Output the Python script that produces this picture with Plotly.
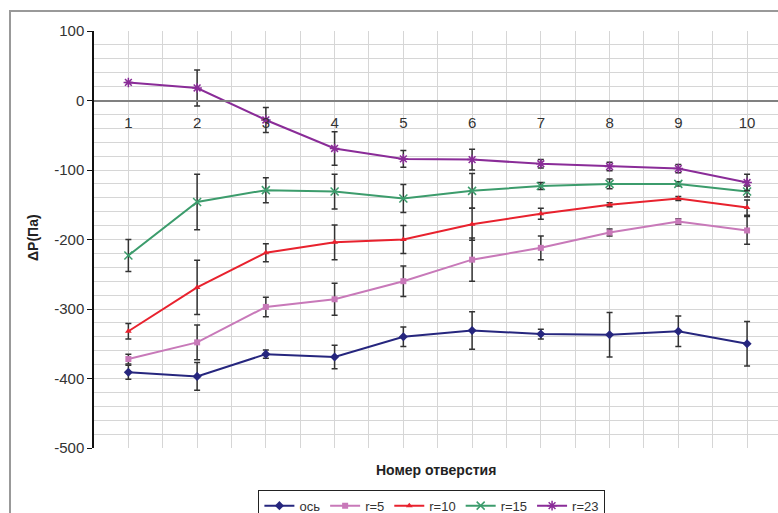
import plotly.graph_objects as go

# Номер отверстия (hole number)
holes = [1, 2, 3, 4, 5, 6, 7, 8, 9, 10]

# ΔP, Pa, per radius, with error half-widths
p_axis = [-391, -397, -365, -369, -340, -331, -336, -337, -332, -350]
e_axis = [10, 20, 6, 17, 14, 27, 7, 32, 22, 32]

p_r5 = [-372, -348, -297, -286, -260, -229, -212, -190, -174, -187]
e_r5 = [7, 25, 14, 23, 22, 31, 17, 5, 4, 20]

p_r10 = [-332, -269, -219, -204, -200, -178, -163, -150, -141, -154]
e_r10 = [11, 39, 13, 25, 20, 23, 8, 3, 3, 11]

p_r15 = [-223, -146, -129, -131, -141, -130, -123, -120, -120, -131]
e_r15 = [23, 40, 18, 25, 20, 25, 5, 7, 3, 8]

p_r23 = [26, 18, -28, -69, -84, -85, -91, -95, -98, -118]
e_r23 = [0, 26, 18, 24, 12, 15, 6, 6, 6, 12]

y_ticks = [100, 0, -100, -200, -300, -400, -500]
y_tick_text = ["100", "0", "-100", "-200", "-300", "-400", "-500"]

series = [
    ("ось", p_axis, e_axis, "#26267E", "diamond", 7, 0),
    ("r=5", p_r5, e_r5, "#C879B9", "square", 6, 0),
    ("r=10", p_r10, e_r10, "#E8222E", "triangle-up", 6, 0),
    ("r=15", p_r15, e_r15, "#3C9C6C", "x-thin-open", 8, 1.5),
    ("r=23", p_r23, e_r23, "#8A2C98", "asterisk-open", 8, 1.5),
]

fig = go.Figure()
for name, vals, errs, color, symbol, size, lw in series:
    fig.add_trace(go.Scatter(
        x=holes, y=vals, name=name, mode="lines+markers",
        line=dict(color=color, width=2),
        marker=dict(symbol=symbol, size=size, color=color,
                    line=dict(color=color, width=lw)),
        error_y=dict(type="data", array=errs, visible=True,
                     color="#333333", thickness=1.5, width=3),
    ))

grid = "#D6D6D6"
font_main = "Liberation Sans, Arial, sans-serif"

fig.update_layout(
    width=778, height=513,
    margin=dict(l=94, r=0, t=31, b=65, autoexpand=False),
    paper_bgcolor="white", plot_bgcolor="white",
    font=dict(family=font_main, size=14, color="#333333"),
    showlegend=True,
    legend=dict(orientation="h", x=0.494, xanchor="center", y=-0.1, yanchor="top",
                bordercolor="#222222", borderwidth=1, bgcolor="white",
                font=dict(size=13, color="#333333"),
                itemwidth=30, tracegroupgap=0),
    xaxis=dict(
        range=[0.5, 10.45], tickvals=holes, ticktext=[str(h) for h in holes],
        anchor="free", position=5 / 6,
        showline=True, linecolor="#808080", linewidth=2,
        ticks="", ticklabelstandoff=8,
        tickfont=dict(size=15, color="#333333"),
        showgrid=True, gridcolor=grid, gridwidth=1,
        minor=dict(dtick=0.5, tick0=0.5, showgrid=True, gridcolor=grid, gridwidth=1),
        zeroline=False,
    ),
    xaxis2=dict(
        range=[0.5, 10.45], overlaying="x", anchor="free", position=5 / 6,
        tickvals=[h + 0.5 for h in holes[:-1]], ticktext=["" for _ in holes[:-1]],
        ticks="outside", ticklen=4, tickcolor="#555555", tickwidth=1,
        showgrid=False, showline=False, zeroline=False,
    ),
    yaxis=dict(
        range=[-500, 100], tickvals=y_ticks, ticktext=y_tick_text,
        showline=True, linecolor="#111111", linewidth=1.5,
        ticks="outside", ticklen=5, tickcolor="#111111",
        tickfont=dict(size=15, color="#333333"),
        showgrid=True, gridcolor=grid, gridwidth=1,
        minor=dict(dtick=20, tick0=0, showgrid=True, gridcolor=grid, gridwidth=1),
        zeroline=False,
    ),
    shapes=[dict(type="rect", xref="paper", yref="paper",
                 x0=-0.1228, x1=1.2, y0=-0.3, y1=1.048,
                 line=dict(color="#999999", width=2), layer="below")],
    annotations=[
        dict(text="<b>Номер отверстия</b>", xref="paper", yref="paper",
             x=0.5, y=-0.053, showarrow=False, xanchor="center", yanchor="middle",
             font=dict(size=14, color="#222222")),
        dict(text="<b>ΔP(Па)</b>", xref="paper", yref="paper",
             x=-0.089, y=0.504, showarrow=False, textangle=-90,
             xanchor="center", yanchor="middle",
             font=dict(size=14, color="#222222")),
    ],
)

fig.write_html("out.html")
